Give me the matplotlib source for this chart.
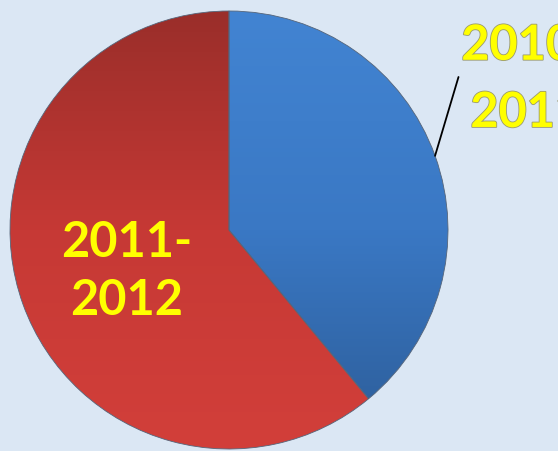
import numpy as np
import matplotlib.pyplot as plt
import matplotlib.patheffects as pe
from matplotlib.colors import LinearSegmentedColormap

# data
labels = ['2010-\n2011', '2011-\n2012']
shares = [39, 61]
colors = ['#3a7ac6', '#c93a36']
# top -> bottom gradient per slice
grads = [['#4284d2', '#3a78c4', '#2c5c97'],
         ['#9a2e2a', '#c63935', '#d23f3a']]

fig = plt.figure(figsize=(5.58, 4.51), dpi=100)
fig.patch.set_facecolor('#dbe7f4')
ax = fig.add_axes([10 / 558, 2 / 451, 438 / 558, 438 / 451])
ax.set_facecolor('none')

wedges, _ = ax.pie(shares, colors=colors, startangle=90, counterclock=False,
                   radius=1, wedgeprops=dict(edgecolor='#55657a', linewidth=0.6))

# row 0 is drawn at the top, so it gets the first colour
yy = np.linspace(-1, 1, 256)[:, None] * np.ones((1, 4))
for w, g in zip(wedges, grads):
    cmap = LinearSegmentedColormap.from_list('g', g)
    im = ax.imshow(yy, extent=[-1, 1, -1, 1], cmap=cmap, vmin=-1, vmax=1,
                   aspect='auto', zorder=w.get_zorder() + 0.1)
    im.set_clip_path(w)
    w.set_zorder(w.get_zorder() + 0.2)
    w.set_facecolor('none')

ax.set_xlim(-1, 1)
ax.set_ylim(-1, 1)
ax.set_aspect('equal')
ax.axis('off')

font = dict(family=['Lato', 'DejaVu Sans'], fontsize=35, fontweight='bold',
            color='#ffff00', ha='center', va='center')
stroke = [pe.withStroke(linewidth=1.2, foreground='#9a9a70')]

# inner label
ax.text(-0.466, -0.19, labels[1], linespacing=1.35, **font)

# outer label with leader line
mid = np.deg2rad(90 - 360 * shares[0] / 100 / 2)
ax.annotate(labels[0], xy=(np.cos(mid), np.sin(mid)), xytext=(1.36, 0.69),
            arrowprops=dict(arrowstyle='-', color='black', lw=1.3,
                            shrinkA=0, shrinkB=0, relpos=(0.0, 0.6)),
            annotation_clip=False, path_effects=stroke, linespacing=1.6,
            **font)

fig.savefig('out.png', dpi=100, facecolor=fig.get_facecolor())
